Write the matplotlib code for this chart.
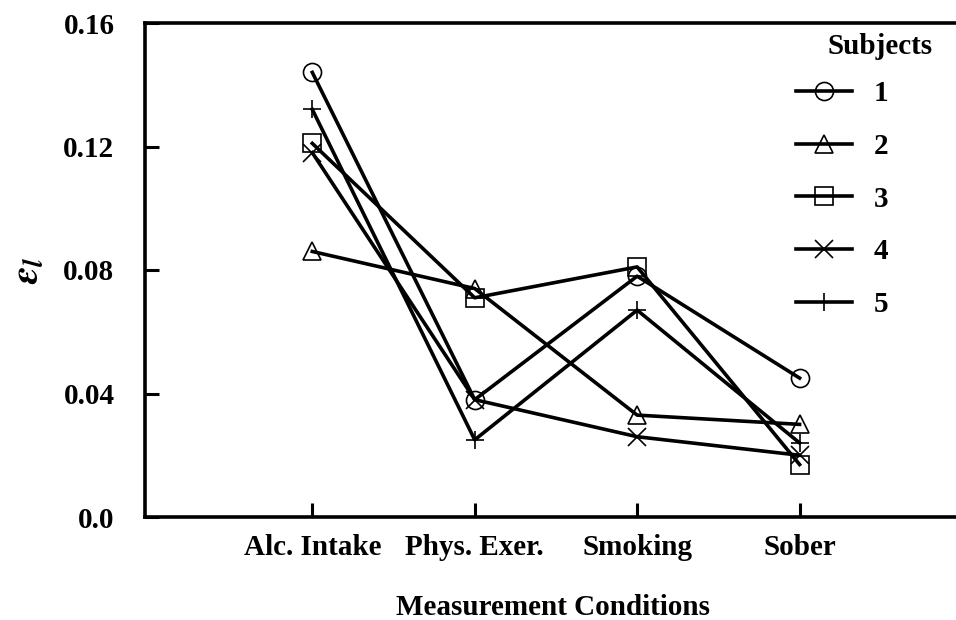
import matplotlib.pyplot as plt

plt.rcParams['font.family'] = 'Liberation Serif'
plt.rcParams['font.weight'] = 'bold'
plt.rcParams['mathtext.fontset'] = 'stix'

conditions = ['Alc. Intake', 'Phys. Exer.', 'Smoking', 'Sober']
x_pos = [1, 2, 3, 4]

subj1 = [0.144, 0.038, 0.078, 0.045]
subj2 = [0.086, 0.074, 0.033, 0.030]
subj3 = [0.121, 0.071, 0.081, 0.017]
subj4 = [0.118, 0.038, 0.026, 0.020]
subj5 = [0.132, 0.025, 0.067, 0.024]

series = [subj1, subj2, subj3, subj4, subj5]
labels = ['1', '2', '3', '4', '5']
markers = ['o', '^', 's', 'x', '+']

fig = plt.figure(figsize=(9.56, 6.2), dpi=100)
ax = fig.add_axes([145 / 956, 103 / 620, 817 / 956, 494 / 620])

for vals, lab, mk in zip(series, labels, markers):
    ax.plot(x_pos, vals, color='black', lw=2.6, marker=mk, markersize=13,
            mfc='none', mec='black', mew=1.2, label=lab)

ax.set_xlim(-0.03, 5)
ax.set_ylim(0, 0.16)
ax.set_xticks(x_pos)
ax.set_xticklabels(conditions)
ax.set_yticks([0.0, 0.04, 0.08, 0.12, 0.16])
ax.set_yticklabels(['0.0', '0.04', '0.08', '0.12', '0.16'])
ax.tick_params(direction='in', length=10, width=2.2, labelsize=21)
ax.tick_params(axis='y', pad=22)
ax.tick_params(axis='x', pad=12)
for s in ax.spines.values():
    s.set_linewidth(2.6)

ax.set_xlabel('Measurement Conditions', fontsize=21, fontweight='bold', labelpad=24)
ax.set_ylabel(r'$\mathit{\varepsilon}_{\mathit{l}}$', fontsize=28, labelpad=12)

# legend title sits above the labels column, so it is placed on its own
fig.text(880 / 956, 1 - 47 / 620, 'Subjects', ha='center', va='center',
         fontsize=21, fontweight='bold')
leg = ax.legend(loc='upper left', bbox_to_anchor=(770 / 956, 1 - 54 / 620),
                bbox_transform=fig.transFigure, frameon=False, fontsize=21,
                handlelength=1.9, handletextpad=0.75, labelspacing=0.88)

fig.savefig('out.png', dpi=100)
